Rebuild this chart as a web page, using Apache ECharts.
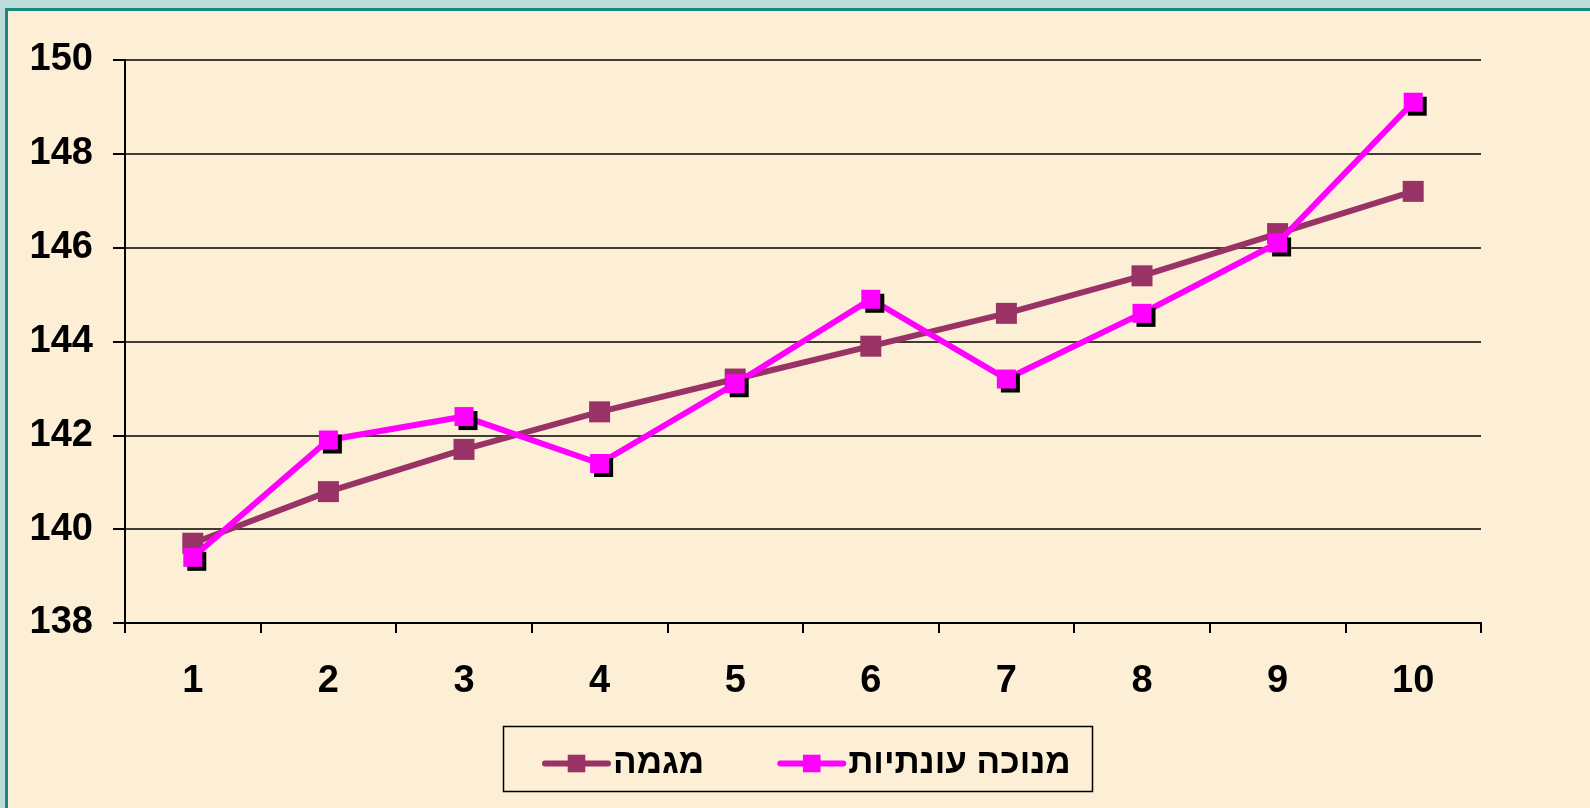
<!DOCTYPE html>
<html>
<head>
<meta charset="utf-8">
<script src="https://cdn.jsdelivr.net/npm/echarts@6/dist/echarts.min.js"></script>
<style>
  html, body { margin: 0; padding: 0; }
  body { width: 1590px; height: 808px; background: #bcdcdc; position: relative; overflow: hidden; }
  #card { position: absolute; left: 5px; top: 8px; right: 0; bottom: 0;
          background: #fcefd6; border-left: 3px solid #178a82; border-top: 3px solid #178a82; }
  #main { position: absolute; left: 0; top: 0; width: 1590px; height: 808px; }
</style>
</head>
<body>
<div id="card"></div>
<div id="main"></div>
<script>
var categories = ['1', '2', '3', '4', '5', '6', '7', '8', '9', '10'];
var trendValues = [139.7, 140.8, 141.7, 142.5, 143.2, 143.9, 144.6, 145.4, 146.3, 147.2];
var adjustedValues = [139.4, 141.9, 142.4, 141.4, 143.1, 144.9, 143.2, 144.6, 146.1, 149.1];
var trendName = 'מגמה';
var adjustedName = 'מנוכה עונתיות';

var myChart = echarts.init(document.getElementById('main'));

var labelFont = {
    color: '#000',
    fontFamily: 'Liberation Sans, Arial, sans-serif',
    fontWeight: 'bold',
    fontSize: 38
};

var option = {
    backgroundColor: 'transparent',
    animation: false,
    grid: { left: 125, top: 60, width: 1356, height: 563, containLabel: false },
    legend: {
        left: 537,
        top: 741,
        itemGap: 73,
        itemWidth: 63,
        itemHeight: 22,
        lineStyle: { width: 6, cap: 'round' },
        textStyle: {
            color: '#000',
            fontFamily: 'Liberation Sans, Arial, sans-serif',
            fontWeight: 'bold',
            fontSize: 35
        },
        data: [trendName, adjustedName]
    },
    graphic: [{
        type: 'rect',
        left: 501,
        top: 724,
        shape: { width: 589, height: 65 },
        style: { fill: 'none', stroke: '#000', lineWidth: 1.5 },
        z: -1
    }],
    xAxis: {
        type: 'category',
        data: categories,
        boundaryGap: true,
        axisLine: { lineStyle: { color: '#000', width: 2 } },
        axisTick: { show: true, length: 10, lineStyle: { color: '#000', width: 2 } },
        axisLabel: Object.assign({ margin: 40 }, labelFont),
        splitLine: { show: false }
    },
    yAxis: {
        type: 'value',
        min: 138,
        max: 150,
        interval: 2,
        axisLine: { show: true, lineStyle: { color: '#000', width: 2 } },
        axisTick: { show: true, length: 12, lineStyle: { color: '#000', width: 2 } },
        axisLabel: Object.assign({ margin: 32 }, labelFont),
        splitLine: { show: true, lineStyle: { color: '#000', width: 1.5 } }
    },
    series: [
        {
            name: trendName,
            type: 'line',
            data: trendValues,
            symbol: 'rect',
            symbolSize: 21,
            showAllSymbol: true,
            lineStyle: { color: '#993366', width: 6 },
            itemStyle: { color: '#993366' },
            z: 2
        },
        {
            name: adjustedName,
            type: 'line',
            data: adjustedValues,
            symbol: 'rect',
            symbolSize: 19,
            showAllSymbol: true,
            lineStyle: { color: '#ff00ff', width: 6 },
            itemStyle: {
                color: '#ff00ff',
                shadowColor: '#000',
                shadowBlur: 0,
                shadowOffsetX: 4,
                shadowOffsetY: 4
            },
            z: 3
        }
    ]
};

myChart.setOption(option);
</script>
</body>
</html>
